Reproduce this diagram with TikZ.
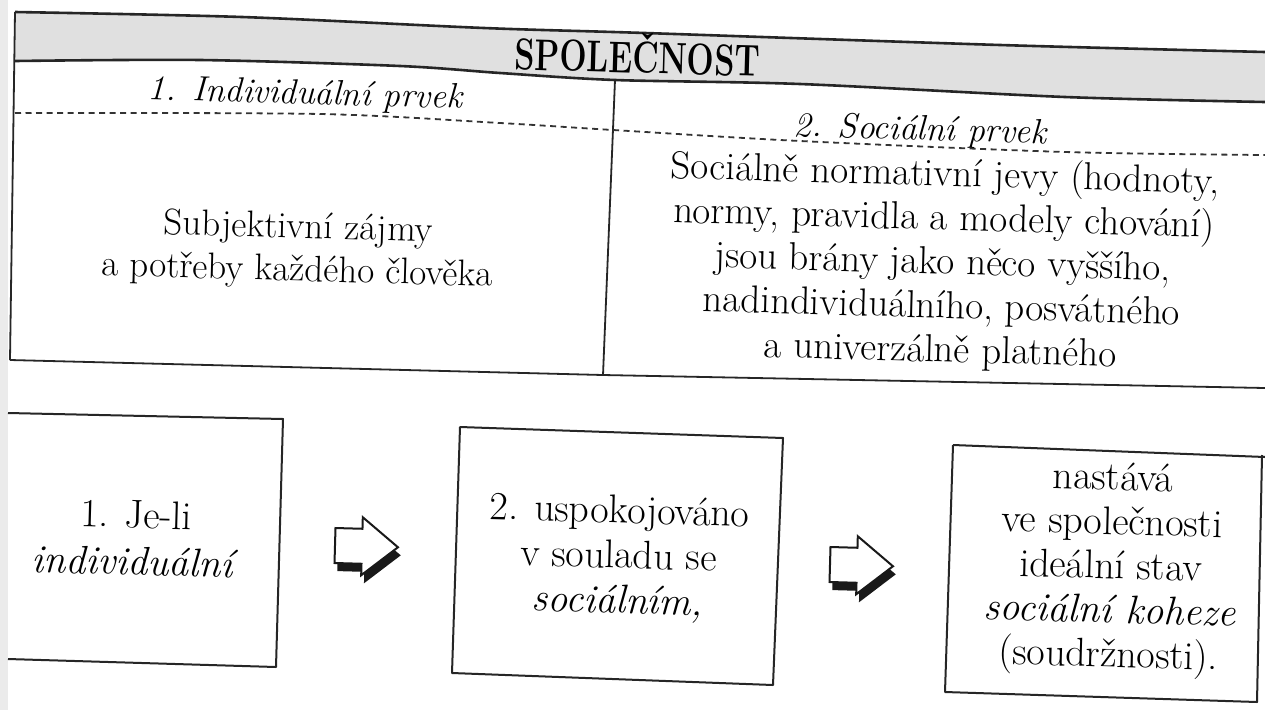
\documentclass[tikz,border=0pt]{standalone}
\usepackage{fontspec}
\usepackage{graphicx}
\begin{document}
\begin{tikzpicture}[x=1pt,y=-1pt,
  txt/.style={align=center, anchor=base, rotate=-1.6, inner sep=0pt},
  rule/.style={line width=2.6pt, black!85},
  thin/.style={line width=1.8pt, black!85},
  dashline/.style={line width=1.8pt, black!80, dash pattern=on 6pt off 4.5pt},
  boxline/.style={line width=2pt, black!85, line join=round},
  bandgray/.style={fill=black!12},
  blockarrow/.pic={
    \fill[black!90] (3,-17.5+8) -- (30,-17.5+8) -- (30,-29+8) -- (66,0+8) -- (30,29+8) -- (30,17.5+8) -- (3,17.5+8) -- cycle;
    \draw[line width=2pt, black!90, fill=white, line join=miter] (0,-17.5) -- (27,-17.5) -- (27,-29) -- (63,0) -- (27,29) -- (27,17.5) -- (0,17.5) -- cycle;
  }]
\useasboundingbox (0,0) rectangle (1265,710);
\fill[white] (0,0) rectangle (1265,710);
\fill[black!8] (0,0) rectangle (8,710);
% header band
\fill[bandgray] plot[smooth] coordinates {(15,12)(242,17)(484,28)(645,33)(1000,45)(1265,52)} -- (1265,102) -- plot[smooth] coordinates {(1265,102)(1065,97)(800,84)(615,80)(500,73)(400,66)(200,60)(15,61)} -- cycle;
% table rules
\draw[rule] plot[smooth] coordinates {(15,12)(242,17)(484,28)(645,33)(1000,45)(1265,52)};
\draw[rule] plot[smooth] coordinates {(15,61)(200,60)(400,66)(500,73)(615,80)(800,84)(1065,97)(1265,102)};
\draw[thin] (15,12) -- (10,360);
\draw[thin] (615,80) -- (603,375);
\draw[dashline] plot[smooth] coordinates {(15,113)(320,114)(500,123)(613,130)(800,141)(1065,152)(1265,155)};
\draw[thin] (10,360) -- (603,375) -- (1265,388);
% header texts
\node[txt] (head) at (637,73) {\resizebox{245pt}{!}{\scalebox{1}[1.38]{\fontsize{30}{36}\selectfont\bfseries SPOLEČNOST}}};
\node[txt, font=\fontsize{35}{44}\selectfont\itshape] (ind) at (305,104) {1. Individuální prvek};
\node[txt, font=\fontsize{35}{44}\selectfont\itshape] (soc) at (920,140) {2. Sociální prvek};
\node[txt, font=\fontsize{37}{43}\selectfont] (indtext) at (297,281) {Subjektivní zájmy\\a potřeby každého člověka};
\node[txt, font=\fontsize{39}{44}\selectfont] (soctext) at (940,362) {Sociálně normativní jevy (hodnoty,\\normy, pravidla a modely chování)\\jsou brány jako něco vyššího,\\nadindividuálního, posvátného\\a univerzálně platného};
% bottom boxes
\draw[boxline] (8,413) -- (283,419) -- (276,667) -- (8,659);
\draw[boxline] (460,427) -- (783,438) -- (773,685) -- (452,673) -- cycle;
\draw[boxline] (953,445) -- (1265,457);
\draw[boxline] (1262,455) -- (1257,702) -- (945,692) -- (953,445);
\node[txt, font=\fontsize{40}{47}\selectfont] (b1) at (134.5,575) {1. Je-li\\\textit{individuální}};
\node[txt, font=\fontsize{40}{45}\selectfont] (b2) at (617,613) {2. uspokojováno\\v souladu se\\\textit{sociálním,}};
\node[txt, font=\fontsize{40}{44.25}\selectfont] (b3) at (1108,667) {nastává\\ve společnosti\\ideální stav\\\textit{sociální koheze}\\(soudržnosti).};
% block arrows
\pic[rotate=-1.6] at (335,545.5) {blockarrow};
\pic[rotate=-1.6] at (830,564.5) {blockarrow};
\end{tikzpicture}
\end{document}
